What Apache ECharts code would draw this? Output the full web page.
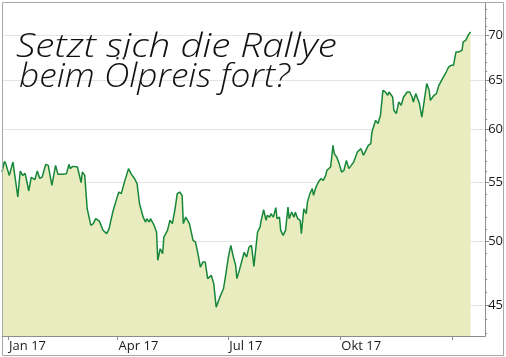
<!DOCTYPE html>
<html><head><meta charset="utf-8">
<script src="https://cdn.jsdelivr.net/npm/echarts@6/dist/echarts.min.js"></script>
<style>html,body{margin:0;padding:0;background:#fff}#c{width:506px;height:357px}</style>
</head><body><div id="c"></div>
<script>
const dates = [
'2016-12-27','2016-12-29','2016-12-30','2017-01-02','2017-01-05','2017-01-06','2017-01-09','2017-01-11','2017-01-13','2017-01-15',
'2017-01-18','2017-01-19','2017-01-20','2017-01-23','2017-01-25','2017-01-27','2017-01-29','2017-02-01','2017-02-03','2017-02-06',
'2017-02-09','2017-02-11','2017-02-15','2017-02-18','2017-02-20','2017-02-21','2017-02-23','2017-02-27','2017-03-02','2017-03-03',
'2017-03-05','2017-03-07','2017-03-10','2017-03-12','2017-03-14','2017-03-17','2017-03-20','2017-03-23','2017-03-25','2017-03-28',
'2017-03-31','2017-04-01','2017-04-02','2017-04-04','2017-04-07','2017-04-10','2017-04-12','2017-04-15','2017-04-17','2017-04-19',
'2017-04-22','2017-04-24','2017-04-25','2017-04-27','2017-04-28','2017-05-01','2017-05-03','2017-05-04','2017-05-06','2017-05-08',
'2017-05-09','2017-05-12','2017-05-14','2017-05-16','2017-05-18','2017-05-20','2017-05-22','2017-05-24','2017-05-25','2017-05-27',
'2017-05-30','2017-06-02','2017-06-04','2017-06-06','2017-06-08','2017-06-10','2017-06-12','2017-06-14','2017-06-17','2017-06-19',
'2017-06-21','2017-06-24','2017-06-27','2017-06-29','2017-07-01','2017-07-03','2017-07-05','2017-07-07','2017-07-08','2017-07-10',
'2017-07-14','2017-07-16','2017-07-18','2017-07-20','2017-07-22','2017-07-25','2017-07-27','2017-07-28','2017-07-30','2017-07-31',
'2017-08-01','2017-08-02','2017-08-04','2017-08-05','2017-08-07','2017-08-09','2017-08-10','2017-08-12','2017-08-13','2017-08-15',
'2017-08-17','2017-08-19','2017-08-20','2017-08-22','2017-08-24','2017-08-25','2017-08-27','2017-08-29','2017-08-30','2017-09-01',
'2017-09-03','2017-09-04','2017-09-06','2017-09-08','2017-09-09','2017-09-11','2017-09-13','2017-09-15','2017-09-17','2017-09-19',
'2017-09-20','2017-09-23','2017-09-25','2017-09-26','2017-09-28','2017-09-30','2017-10-02','2017-10-04','2017-10-06','2017-10-08',
'2017-10-10','2017-10-12','2017-10-15','2017-10-18','2017-10-20','2017-10-22','2017-10-24','2017-10-26','2017-10-27','2017-10-30',
'2017-11-01','2017-11-03','2017-11-05','2017-11-07','2017-11-09','2017-11-10','2017-11-13','2017-11-14','2017-11-16','2017-11-18',
'2017-11-20','2017-11-22','2017-11-25','2017-11-27','2017-11-29','2017-11-30','2017-12-02','2017-12-05','2017-12-07','2017-12-09',
'2017-12-11','2017-12-13','2017-12-14','2017-12-17','2017-12-19','2017-12-21','2017-12-24','2017-12-27','2017-12-29','2017-12-31',
'2018-01-02','2018-01-04','2018-01-05','2018-01-06','2018-01-09','2018-01-10','2018-01-12','2018-01-14','2018-01-16'
];
const prices = [
55.97,56.96,56.77,55.66,56.89,56.77,53.73,56.06,55.66,55.85,
54.26,54.32,55.48,55.27,56.06,55.39,55.51,56.68,56.58,54.76,
56.58,55.76,55.76,55.82,56.68,56.28,56.49,56.43,55.01,55.97,
55.66,52.71,51.29,51.44,51.86,51.65,50.88,50.60,51.02,52.42,
53.50,53.58,54.17,54.03,55.21,56.28,55.82,55.36,54.92,53.14,
51.99,51.57,51.86,51.57,51.86,51.29,50.74,48.44,49.37,48.97,
50.32,50.88,51.72,51.44,52.57,54.03,54.17,53.87,51.44,51.99,
51.44,50.05,49.91,48.97,47.91,48.30,48.30,47.01,47.26,46.63,
44.87,45.61,46.24,47.40,48.70,49.64,48.75,48.04,47.01,47.65,
49.08,48.70,49.50,49.64,47.96,50.74,51.15,51.72,52.63,52.71,
51.72,52.14,51.99,52.28,51.99,52.80,51.86,51.99,50.88,50.46,
50.88,52.85,51.86,52.42,51.99,52.42,51.86,51.72,50.60,52.71,
52.28,53.28,54.03,54.47,53.87,54.61,55.06,55.36,55.21,55.66,
56.13,56.43,58.47,57.68,57.36,56.77,55.97,56.13,57.05,56.28,
56.58,56.89,57.83,58.15,57.52,57.99,58.47,58.63,59.75,60.91,
60.58,61.41,63.97,63.80,63.46,63.80,63.28,61.92,61.58,62.76,
62.43,63.28,63.80,63.80,63.28,62.76,63.63,62.60,61.24,62.94,
64.68,63.97,62.94,63.46,63.63,64.50,65.21,65.92,66.46,66.65,
66.65,68.11,67.93,68.11,68.30,69.24,69.43,70.00,70.38
];
const yTicks = [45, 50, 55, 60, 65, 70];
const yMinorTicks = [43,44,46,47,48,49,51,52,53,54,56,57,58,59,61,62,63,64,66,67,68,69,71,72,73];
const yRange = [42.8, 73.8];
const xTickDates = ['2017-01-01', '2017-04-01', '2017-07-01', '2017-10-01', '2018-01-01'];
const xTickLabels = ['Jan 17', 'Apr 17', 'Jul 17', 'Okt 17', ''];
const xRange = ['2016-12-27', '2018-01-28'];
const titleLines = ['Setzt sich die Rallye', 'beim Ölpreis fort?'];

function ts(s) { const p = s.split('-').map(Number); return Date.UTC(p[0], p[1] - 1, p[2]); }
const xTicks = xTickDates.map(ts);

const chart = echarts.init(document.getElementById('c'), null, {renderer: 'canvas'});
const axisColor = '#8c8c8c';
const labelFont = {fontFamily: 'Open Sans', fontSize: 13, color: '#1a1a1a'};
const titleFont = 'italic 300 33px "Open Sans"';
chart.setOption({
  animation: false,
  backgroundColor: '#fff',
  grid: {left: 2, right: 20, top: 3, bottom: 21, containLabel: false},
  xAxis: {
    type: 'value', min: ts(xRange[0]), max: ts(xRange[1]), scale: true,
    axisLine: {show: true, onZero: false, lineStyle: {color: axisColor, width: 1}},
    axisTick: {show: true, customValues: xTicks, length: 4, lineStyle: {color: axisColor}},
    axisLabel: Object.assign({
      customValues: xTicks, align: 'left', margin: 4, padding: [0, 0, 0, 1],
      formatter: function (v) { const i = xTicks.indexOf(v); return i >= 0 ? xTickLabels[i] : ''; }
    }, labelFont),
    splitLine: {show: false}
  },
  yAxis: [{
    type: 'value', position: 'right', scale: true,
    min: Math.log(yRange[0]), max: Math.log(yRange[1]),
    axisLine: {show: true, onZero: false, lineStyle: {color: axisColor, width: 1}},
    axisTick: {show: true, customValues: yTicks.map(Math.log), length: 4, lineStyle: {color: axisColor}},
    axisLabel: Object.assign({
      customValues: yTicks.map(Math.log), margin: 3,
      formatter: function (v) { return String(Math.round(Math.exp(v))); }
    }, labelFont),
    splitLine: {show: true, lineStyle: {color: '#e4e4e4', width: 1}}
  }, {
    type: 'value', position: 'right', scale: true,
    min: Math.log(yRange[0]), max: Math.log(yRange[1]),
    axisLine: {show: false},
    axisTick: {show: true, customValues: yMinorTicks.map(Math.log), length: 2, lineStyle: {color: axisColor}},
    axisLabel: {show: false},
    splitLine: {show: false}
  }],
  series: [{
    type: 'line', showSymbol: false, symbol: 'none', smooth: false,
    data: dates.map(function (d, i) { return [ts(d), Math.log(prices[i])]; }),
    lineStyle: {color: '#16873a', width: 1.5},
    areaStyle: {color: '#e9ecbe', opacity: 1, origin: 'start'},
    z: 2
  }],
  graphic: [
    {type: 'rect', shape: {x: 2.5, y: 2.5, width: 501, height: 353}, style: {fill: 'none', stroke: '#a8a8a8', lineWidth: 1}, z: 100, silent: true},
    {type: 'text', x: 16, y: 31, scaleX: 1.17, style: {text: titleLines[0], font: titleFont, fill: '#111'}, z: 101},
    {type: 'text', x: 19, y: 61, scaleX: 1.07, style: {text: titleLines[1], font: titleFont, fill: '#111'}, z: 101}
  ]
});
</script>
</body></html>
